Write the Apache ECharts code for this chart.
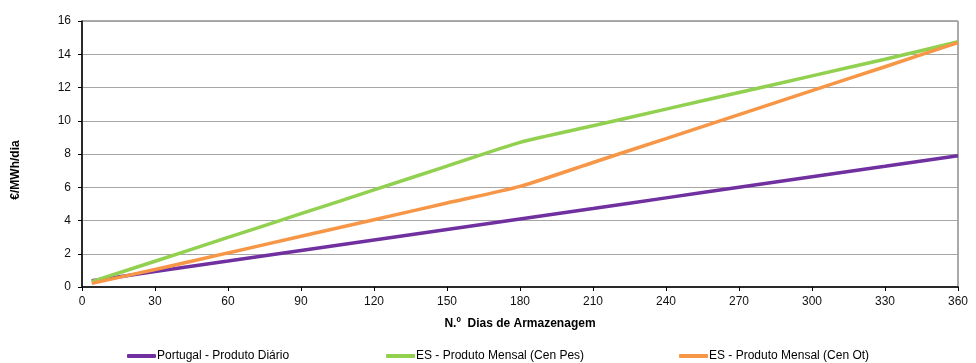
<!DOCTYPE html>
<html>
<head>
<meta charset="utf-8">
<script src="https://cdn.jsdelivr.net/npm/echarts@6/dist/echarts.min.js"></script>
<style>
html,body{margin:0;padding:0;background:#fff;}
#chart{width:976px;height:363px;}
</style>
</head>
<body>
<div id="chart"></div>
<script>
// Days of storage (x values)
const days = [4, 30, 60, 90, 120, 150, 180, 210, 240, 270, 300, 330, 360];
// €/MWh/dia
const portugalDiario = [0.38, 0.93, 1.56, 2.2, 2.83, 3.46, 4.09, 4.72, 5.36, 6.0, 6.63, 7.26, 7.9];
const esMensalPes   = [0.32, 1.55, 2.98, 4.41, 5.84, 7.27, 8.7, 9.7, 10.7, 11.7, 12.7, 13.7, 14.75];
const esMensalOt    = [0.22, 1.05, 2.05, 3.05, 4.05, 5.05, 6.05, 7.49, 8.93, 10.37, 11.81, 13.25, 14.7];
const seriesNames = ['Portugal - Produto Diário', 'ES - Produto Mensal (Cen Pes)', 'ES - Produto Mensal (Cen Ot)'];
const xTicks = { min: 0, max: 360, interval: 30 };
const yTicks = { min: 0, max: 16, interval: 2 };

const colors = ['#7030A0', '#92D050', '#F79646'];
const font = '"Liberation Sans", Arial, sans-serif';

function pairs(ys) { return days.map((d, i) => [d, ys[i]]); }

const chart = echarts.init(document.getElementById('chart'), null, { renderer: 'canvas' });
const legendLefts = [127, 386, 679];
chart.setOption({
  animation: false,
  backgroundColor: '#fff',
  color: colors,
  textStyle: { fontFamily: font },
  grid: { left: 82, right: 18, top: 21, bottom: 76, show: true, borderColor: '#555', borderWidth: 1 },
  legend: seriesNames.map((n, i) => ({
    data: [n],
    left: legendLefts[i],
    top: 350,
    padding: 0,
    icon: 'roundRect',
    itemWidth: 29,
    itemHeight: 4,
    itemGap: 0,
    textStyle: { fontFamily: font, fontSize: 12, color: '#000', padding: [0, 0, 0, -4] }
  })),
  xAxis: {
    type: 'value',
    min: xTicks.min, max: xTicks.max, interval: xTicks.interval,
    name: 'N.º  Dias de Armazenagem',
    nameLocation: 'middle',
    nameGap: 31,
    nameTextStyle: { fontFamily: font, fontSize: 12, fontWeight: 'bold', color: '#000' },
    axisLine: { show: true, onZero: false, lineStyle: { color: '#000', width: 1.5 } },
    axisTick: { show: true, length: 4, lineStyle: { color: '#000' } },
    axisLabel: { margin: 9, fontSize: 12, color: '#111', fontFamily: font },
    splitLine: { show: false }
  },
  yAxis: {
    type: 'value',
    min: yTicks.min, max: yTicks.max, interval: yTicks.interval,
    name: '€/MWh/dia',
    nameLocation: 'middle',
    nameGap: 60,
    nameTextStyle: { fontFamily: font, fontSize: 12, fontWeight: 'bold', color: '#000', padding: [0, 32, 0, 0] },
    axisLine: { show: true, lineStyle: { color: '#000', width: 1.5 } },
    axisTick: { show: true, length: 4, lineStyle: { color: '#000' } },
    axisLabel: { margin: 11, fontSize: 12, color: '#111', fontFamily: font },
    splitLine: { show: true, lineStyle: { color: '#a6a6a6', width: 1 } }
  },
  series: [portugalDiario, esMensalPes, esMensalOt].map((ys, i) => ({
    name: seriesNames[i],
    type: 'line',
    data: pairs(ys),
    showSymbol: false,
    symbol: 'none',
    smooth: 0.2,
    lineStyle: { width: 3.5, color: colors[i] },
    itemStyle: { color: colors[i] },
    z: 3 + i
  }))
});
</script>
</body>
</html>
